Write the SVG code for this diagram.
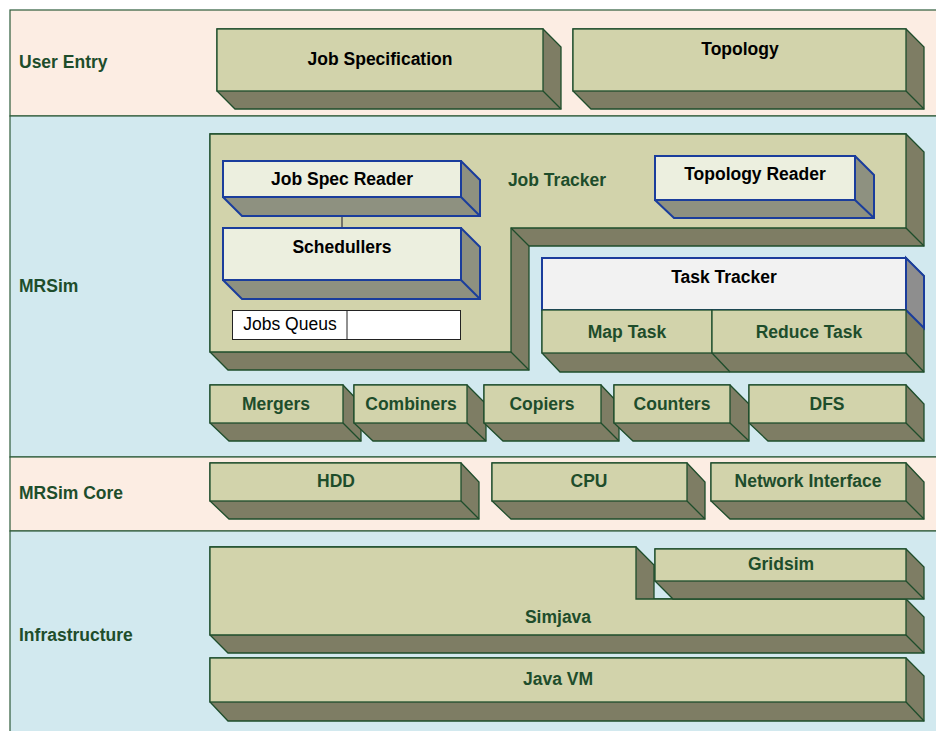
<svg xmlns="http://www.w3.org/2000/svg" width="936" height="731" viewBox="0 0 936 731">
<style>
.band-p{fill:#fcede3;stroke:#2d5b3a;stroke-width:1.2}
.band-b{fill:#d2e9ef;stroke:#2d5b3a;stroke-width:1.2}
.sil{fill:#7e7d64;stroke:#1e4d2b;stroke-width:1.3;stroke-linejoin:miter}
.front{fill:#d2d3ab;stroke:#1e4d2b;stroke-width:1.3}
.edge{stroke:#1e4d2b;stroke-width:1.3;fill:none}
.bsil{fill:#8e9180;stroke:#1a3d9c;stroke-width:2}
.bfront{fill:#ecefdf;stroke:#1a3d9c;stroke-width:2}
.bedge{stroke:#1a3d9c;stroke-width:2;fill:none}
text{font-family:"Liberation Sans",Arial,sans-serif;font-size:17.5px;font-weight:bold;text-anchor:middle}
.lbl{fill:#1e4d2b;text-anchor:start}
.g{fill:#1e4d2b}
.k{fill:#000}
.n{font-weight:normal;fill:#000}
</style>
<rect x="0" y="0" width="936" height="731" fill="#fff"/>
<g id="bands">
<rect class="band-p" x="10" y="10" width="940" height="106"/>
<rect class="band-b" x="10" y="116" width="940" height="341"/>
<rect class="band-p" x="10" y="457" width="940" height="74"/>
<rect class="band-b" x="10" y="531" width="940" height="210"/>
<text class="lbl" x="19" y="68">User Entry</text>
<text class="lbl" x="19" y="292">MRSim</text>
<text class="lbl" x="19" y="499">MRSim Core</text>
<text class="lbl" x="19" y="641">Infrastructure</text>
</g>
<g id="job-specification">
<polygon class="sil" points="217,29 543,29 561,47 561,109 235,109 217,91"/>
<rect class="front" x="217" y="29" width="326" height="62"/>
<line class="edge" x1="543" y1="91" x2="561" y2="109"/>
<text class="k" x="380" y="65">Job Specification</text>
</g>
<g id="topology">
<polygon class="sil" points="573,29 906,29 924,47 924,109 591,109 573,91"/>
<rect class="front" x="573" y="29" width="333" height="62"/>
<line class="edge" x1="906" y1="91" x2="924" y2="109"/>
<text class="k" x="740" y="55">Topology</text>
</g>
<g id="job-tracker">
<polygon class="sil" points="210,134 906,134 924,152 924,246 529,246 529,370 228,370 210,352"/>
<polygon class="front" points="210,134 906,134 906,228 511,228 511,352 210,352"/>
<line class="edge" x1="906" y1="228" x2="924" y2="246"/>
<line class="edge" x1="511" y1="228" x2="529" y2="246"/>
<line class="edge" x1="511" y1="352" x2="529" y2="370"/>
<text class="g" x="557" y="186">Job Tracker</text>
</g>
<g id="connectors">
<line x1="342" y1="216" x2="342" y2="228" stroke="#555" stroke-width="1.5"/>
</g>
<g id="job-spec-reader">
<polygon class="bsil" points="223,161 461,161 480,180 480,216 242,216 223,197"/>
<rect class="bfront" x="223" y="161" width="238" height="36"/>
<line class="bedge" x1="461" y1="197" x2="480" y2="216"/>
<text class="k" x="342" y="185">Job Spec Reader</text>
</g>
<g id="schedullers">
<polygon class="bsil" points="223,228 461,228 480,247 480,299 242,299 223,280"/>
<rect class="bfront" x="223" y="228" width="238" height="52"/>
<line class="bedge" x1="461" y1="280" x2="480" y2="299"/>
<text class="k" x="342" y="253">Schedullers</text>
</g>
<g id="jobs-queus">
<rect x="232.5" y="310.5" width="228" height="29" fill="#fff" stroke="#222" stroke-width="1"/>
<line x1="347" y1="310.5" x2="347" y2="339.5" stroke="#222" stroke-width="1"/>
<text class="n" x="290" y="330">Jobs Queus</text>
</g>
<g id="topology-reader">
<polygon class="bsil" points="655,156 855,156 874,175 874,218 674,218 655,200"/>
<rect class="bfront" x="655" y="156" width="200" height="44"/>
<line class="bedge" x1="855" y1="200" x2="874" y2="218"/>
<text class="k" x="755" y="180">Topology Reader</text>
</g>
<g id="task-tracker">
<polygon class="sil" points="542,258 906,258 924,276 924,372 560,372 542,353"/>
<polygon points="906,258 924,276 924,328 906,310" fill="#8e8e8e" stroke="#1a3d9c" stroke-width="2"/>
<rect x="542" y="258" width="364" height="52" fill="#f2f2f2" stroke="#1a3d9c" stroke-width="2"/>
<text class="k" x="724" y="283">Task Tracker</text>
</g>
<g id="map-task">
<rect class="front" x="542" y="310" width="170" height="43"/>
<text class="g" x="627" y="338">Map Task</text>
</g>
<g id="reduce-task">
<rect class="front" x="712" y="310" width="194" height="43"/>
<line class="edge" x1="712" y1="353" x2="730" y2="372"/>
<line class="edge" x1="906" y1="353" x2="924" y2="372"/>
<text class="g" x="809" y="338">Reduce Task</text>
</g>
<g id="mergers">
<polygon class="sil" points="210,385 343,385 361,404 361,441 229,441 210,423"/>
<rect class="front" x="210" y="385" width="133" height="38"/>
<line class="edge" x1="343" y1="423" x2="361" y2="441"/>
<text class="g" x="276" y="410">Mergers</text>
</g>
<g id="combiners">
<polygon class="sil" points="354,385 467,385 486,404 486,441 373,441 354,423"/>
<rect class="front" x="354" y="385" width="113" height="38"/>
<line class="edge" x1="467" y1="423" x2="486" y2="441"/>
<text class="g" x="411" y="410">Combiners</text>
</g>
<g id="copiers">
<polygon class="sil" points="484,385 601,385 619,404 619,441 503,441 484,423"/>
<rect class="front" x="484" y="385" width="117" height="38"/>
<line class="edge" x1="601" y1="423" x2="619" y2="441"/>
<text class="g" x="542" y="410">Copiers</text>
</g>
<g id="counters">
<polygon class="sil" points="614,385 730,385 749,404 749,441 633,441 614,423"/>
<rect class="front" x="614" y="385" width="116" height="38"/>
<line class="edge" x1="730" y1="423" x2="749" y2="441"/>
<text class="g" x="672" y="410">Counters</text>
</g>
<g id="dfs">
<polygon class="sil" points="749,385 906,385 924,404 924,441 768,441 749,423"/>
<rect class="front" x="749" y="385" width="157" height="38"/>
<line class="edge" x1="906" y1="423" x2="924" y2="441"/>
<text class="g" x="827" y="410">DFS</text>
</g>
<g id="hdd">
<polygon class="sil" points="210,463 461,463 479,482 479,519 229,519 210,501"/>
<rect class="front" x="210" y="463" width="251" height="38"/>
<line class="edge" x1="461" y1="501" x2="479" y2="519"/>
<text class="g" x="336" y="487">HDD</text>
</g>
<g id="cpu">
<polygon class="sil" points="492,463 687,463 705,482 705,519 511,519 492,501"/>
<rect class="front" x="492" y="463" width="195" height="38"/>
<line class="edge" x1="687" y1="501" x2="705" y2="519"/>
<text class="g" x="589" y="487">CPU</text>
</g>
<g id="network-interface">
<polygon class="sil" points="711,463 906,463 924,482 924,519 730,519 711,501"/>
<rect class="front" x="711" y="463" width="195" height="38"/>
<line class="edge" x1="906" y1="501" x2="924" y2="519"/>
<text class="g" x="808" y="487">Network Interface</text>
</g>
<g id="simjava">
<polygon class="sil" points="210,547 636,547 654,565 654,599 906,599 924,617 924,653 228,653 210,635"/>
<polygon class="front" points="210,547 636,547 636,599 906,599 906,635 210,635"/>
<line class="edge" x1="906" y1="635" x2="924" y2="653"/>
<text class="g" x="558" y="623">Simjava</text>
</g>
<g id="gridsim">
<polygon class="sil" points="655,549 906,549 924,567 924,599 673,599 655,581"/>
<rect class="front" x="655" y="549" width="251" height="32"/>
<line class="edge" x1="906" y1="581" x2="924" y2="599"/>
<text class="g" x="781" y="570">Gridsim</text>
</g>
<g id="java-vm">
<polygon class="sil" points="210,658 906,658 924,676 924,721 228,721 210,702"/>
<rect class="front" x="210" y="658" width="696" height="44"/>
<line class="edge" x1="906" y1="702" x2="924" y2="721"/>
<text class="g" x="558" y="685">Java VM</text>
</g>
</svg>
